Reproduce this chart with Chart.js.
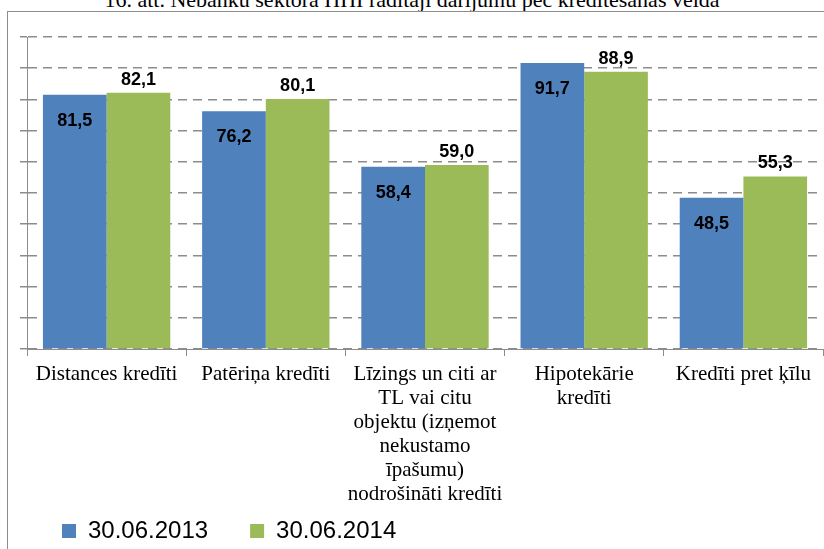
<!DOCTYPE html>
<html>
<head>
<meta charset="utf-8">
<script src="https://cdn.jsdelivr.net/npm/chart.js@4/dist/chart.umd.min.js"></script>
<style>
  body { margin: 0; background: #fff; overflow: hidden; width: 824px; height: 549px; position: relative; }
  #title { position: absolute; top: -13px; left: 0; width: 824px; text-align: center;
    font: 22px "Liberation Serif", serif; color: #000; white-space: nowrap; }
  #frame { position: absolute; left: 7px; top: 11px; width: 900px; height: 600px; border: 1px solid #8c8c8c; }
  #chart { position: absolute; left: 0; top: 0; }
</style>
</head>
<body>
<div id="title">16. att. Nebanku sektora HHI rādītāji darījumu pēc kreditēšanas veida</div>
<div id="frame"></div>
<canvas id="chart" width="824" height="549"></canvas>
<script>
var categories = [
  'Distances kredīti',
  'Patēriņa kredīti',
  ['Līzings un citi ar', 'TL vai citu', 'objektu (izņemot', 'nekustamo', 'īpašumu)', 'nodrošināti kredīti'],
  ['Hipotekārie', 'kredīti'],
  'Kredīti pret ķīlu'
];
var seriesNames = ['30.06.2013', '30.06.2014'];
var values2013 = [81.5, 76.2, 58.4, 91.7, 48.5];
var values2014 = [82.1, 80.1, 59.0, 88.9, 55.3];
var yTicks = [0, 100, 10]; // min, max, step

// value labels: first series inside the bar top, second above the bar
var barLabels = {
  id: 'barLabels',
  afterDatasetsDraw: function(chart) {
    var ctx = chart.ctx;
    ctx.save();
    ctx.font = 'bold 18px "Liberation Sans", sans-serif';
    ctx.fillStyle = '#000';
    ctx.textAlign = 'center';
    ctx.textBaseline = 'middle';
    chart.data.datasets.forEach(function(ds, di) {
      chart.getDatasetMeta(di).data.forEach(function(bar, i) {
        var txt = ds.data[i].toFixed(1).replace('.', ',');
        var y = di === 0 ? bar.y + 26 : bar.y - 13;
        ctx.fillText(txt, bar.x, y);
      });
    });
    ctx.restore();
  }
};

// the long category label runs down next to the legend, so let the x axis
// keep drawing its labels below its fitted height
var tallLabels = {
  id: 'tallLabels',
  afterLayout: function(chart) {
    var s = chart.scales.x;
    s.bottom = chart.height;
    s.height = s.bottom - s.top;
  }
};

var ctx = document.getElementById('chart').getContext('2d');
var chart = new Chart(ctx, {
  type: 'bar',
  data: {
    labels: categories,
    datasets: [{
      label: seriesNames[0],
      data: values2013,
      backgroundColor: '#4f81bd',
      categoryPercentage: 0.8,
      barPercentage: 1.0
    }, {
      label: seriesNames[1],
      data: values2014,
      backgroundColor: '#9bbb59',
      categoryPercentage: 0.8,
      barPercentage: 1.0
    }]
  },
  options: {
    responsive: false,
    animation: false,
    layout: { padding: { left: 20, top: 37, right: 1, bottom: -4 } },
    plugins: {
      title: { display: false },
      tooltip: { enabled: false },
      legend: {
        position: 'bottom',
        align: 'start',
        labels: {
          boxWidth: 14,
          boxHeight: 14,
          padding: 42,
          color: '#000',
          font: { family: '"Liberation Sans", sans-serif', size: 24 }
        }
      }
    },
    scales: {
      x: {
        grid: { offset: true, drawOnChartArea: false, drawTicks: true, tickLength: 7, color: '#8c8c8c' },
        border: { color: '#8c8c8c', width: 1 },
        ticks: {
          color: '#000',
          autoSkip: false,
          maxRotation: 0,
          padding: 6,
          font: { family: '"Liberation Serif", serif', size: 21, lineHeight: 1.15 }
        },
        afterFit: function(s) { s.height = 128; }
      },
      y: {
        min: yTicks[0],
        max: yTicks[1],
        grid: { color: '#8c8c8c', lineWidth: 1.5, drawTicks: true, tickLength: 7, tickBorderDash: [] },
        border: { color: '#8c8c8c', width: 1, dash: [9, 6] },
        ticks: { display: false, stepSize: yTicks[2] }
      }
    }
  },
  plugins: [barLabels, tallLabels]
});
</script>
</body>
</html>
